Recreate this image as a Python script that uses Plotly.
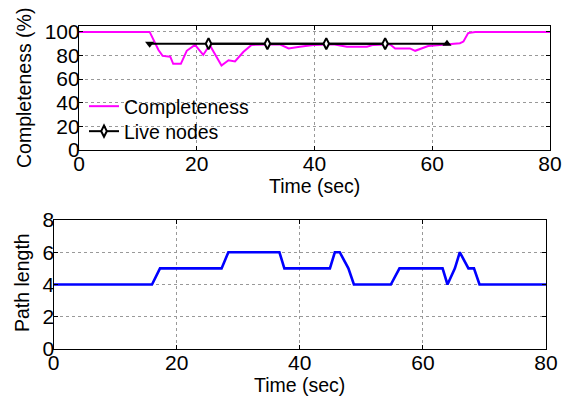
import plotly.graph_objects as go

# ---- data ----
comp_t = [0, 12.0, 13.5, 14.2, 15.5, 16.0, 17.3, 18.3, 19.7, 21.1, 22.2, 24.2, 25.4, 26.5,
          27.9, 29.3, 34.1, 35.6, 37.5, 39.8, 43.2, 45.5, 48.9, 50.0, 52.8, 53.7, 56.2,
          57.1, 59.3, 62.4, 64.7, 65.3, 66.1, 67.3, 80]
comp_v = [100, 100, 84.7, 79.7, 79, 73, 73, 84, 89, 80.5, 89, 71.5, 76, 75,
          83, 89, 89.5, 86, 87.5, 89, 89.5, 87.5, 87.5, 89, 89.5, 86, 86,
          84, 88, 89.5, 90.4, 91.8, 99, 100, 100]

live_t = [12, 22, 32, 42, 52, 62.5]
live_v = [90, 90, 90, 90, 90, 90]

path_t = [0, 16.0, 17.3, 27.3, 28.4, 36.7, 37.5, 44.9, 45.7, 46.5, 47.9, 48.8,
          54.8, 56.2, 63.2, 64.0, 65.2, 66.0, 67.4, 68.3, 69.2, 80]
path_v = [4, 4, 5, 5, 6, 6, 5, 5, 6, 6, 5, 4,
          4, 5, 5, 4, 5, 6, 5, 5, 4, 4]

x_ticks = [0, 20, 40, 60, 80]
comp_ticks = [0, 20, 40, 60, 80, 100]
path_ticks = [0, 2, 4, 6, 8]

W, H = 566, 402
FONT = "Liberation Sans, Arial, Helvetica, sans-serif"

fig = go.Figure()

fig.add_trace(go.Scatter(x=comp_t, y=comp_v, mode="lines", name="Completeness",
                         line=dict(color="#FF00FF", width=2), xaxis="x", yaxis="y",
                         legend="legend"))
fig.add_trace(go.Scatter(x=live_t, y=live_v, mode="lines", showlegend=False,
                         line=dict(color="black", width=2), xaxis="x", yaxis="y"))
fig.add_trace(go.Scatter(x=live_t[1:-1], y=live_v[1:-1], mode="lines+markers", name="Live nodes",
                         line=dict(color="black", width=2),
                         marker=dict(symbol="diamond-tall", size=8, color="white",
                                     line=dict(color="black", width=2)),
                         xaxis="x", yaxis="y", legend="legend2"))
fig.add_trace(go.Scatter(x=live_t[:1], y=live_v[:1], mode="markers", showlegend=False,
                         marker=dict(symbol="triangle-down", size=8, color="black"),
                         xaxis="x", yaxis="y"))
fig.add_trace(go.Scatter(x=live_t[-1:], y=live_v[-1:], mode="markers", showlegend=False,
                         marker=dict(symbol="triangle-up", size=8, color="black"),
                         xaxis="x", yaxis="y"))

fig.add_trace(go.Scatter(x=path_t, y=path_v, mode="lines", showlegend=False,
                         line=dict(color="#0000FF", width=2.6), xaxis="x2", yaxis="y2"))

axis_common = dict(showline=True, linecolor="black", linewidth=1.2, mirror="ticks",
                   ticks="inside", ticklen=4, tickcolor="black", automargin=False,
                   showgrid=True, gridcolor="#999999", griddash="dot", gridwidth=1,
                   zeroline=False, tickfont=dict(size=21, color="black", family=FONT))

TX1 = [79 / W, 550 / W]
TY1 = [1 - 150 / H, 1 - 26 / H]
TX2 = [53.5 / W, 546 / W]
TY2 = [1 - 349 / H, 1 - 220 / H]

legend_common = dict(xanchor="left", yanchor="top", bgcolor="rgba(0,0,0,0)",
                     font=dict(size=19.5, color="black", family=FONT),
                     tracegroupgap=0, itemwidth=30)

fig.update_layout(
    width=W, height=H,
    margin=dict(l=0, r=0, t=0, b=0),
    paper_bgcolor="white", plot_bgcolor="white",
    font=dict(family=FONT, color="black"),
    xaxis=dict(domain=TX1, anchor="y", range=[0, 80], tickvals=x_ticks,
               ticklabelstandoff=-5, **axis_common),
    yaxis=dict(domain=TY1, anchor="x", range=[0, 105], tickvals=comp_ticks,
               ticklabelstandoff=-6, **axis_common),
    xaxis2=dict(domain=TX2, anchor="y2", range=[0, 80], tickvals=x_ticks,
                ticklabelstandoff=-5, **axis_common),
    yaxis2=dict(domain=TY2, anchor="x2", range=[0, 8], tickvals=path_ticks,
                ticklabelstandoff=-6, **axis_common),
    legend=dict(x=84 / W, y=1 - 87 / H, **legend_common),
    legend2=dict(x=84 / W, y=1 - 112 / H, **legend_common),
    showlegend=True,
)

title_font = dict(size=19.5, color="black", family=FONT)
fig.add_annotation(text="Time (sec)", xref="paper", yref="paper", showarrow=False,
                   x=(TX1[0] + TX1[1]) / 2, y=1 - 186 / H, xanchor="center", yanchor="middle",
                   font=title_font)
fig.add_annotation(text="Completeness (%)", xref="paper", yref="paper", showarrow=False,
                   x=24 / W, y=1 - 88 / H, xanchor="center", yanchor="middle",
                   textangle=-90, font=title_font)
fig.add_annotation(text="Time (sec)", xref="paper", yref="paper", showarrow=False,
                   x=(TX2[0] + TX2[1]) / 2, y=1 - 384.5 / H, xanchor="center", yanchor="middle",
                   font=title_font)
fig.add_annotation(text="Path length", xref="paper", yref="paper", showarrow=False,
                   x=22 / W, y=1 - 283 / H, xanchor="center", yanchor="middle",
                   textangle=-90, font=title_font)

fig.write_html("out.html", post_script="document.body.style.margin='0';",
               config={"displayModeBar": False})
